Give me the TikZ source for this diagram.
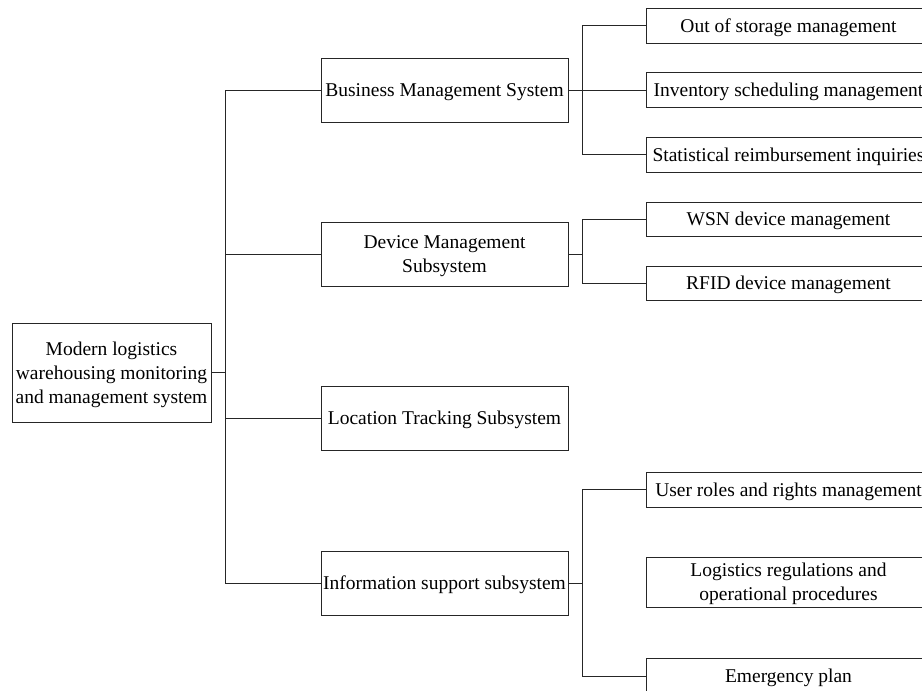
\documentclass[tikz,border=0pt]{standalone}
\usepackage{fontspec}
\setmainfont{Liberation Serif}
\begin{document}
\begin{tikzpicture}[x=1pt,y=-1pt,
  box/.style={draw=black!85,line width=1pt,inner sep=0pt,align=center,text depth=0pt,
    font=\fontsize{19.5}{24}\selectfont},
  lone/.style={box,minimum width=199pt,minimum height=99pt},
  ltwo/.style={box,minimum width=247pt,minimum height=64pt},
  lthree/.style={box,minimum width=285pt,minimum height=35pt},
  conn/.style={draw=black!85,line width=1pt}]
\useasboundingbox (0,0) rectangle (922,691);
\node[lone] (root) at (111.5,372.5) {Modern logistics\\warehousing monitoring\\and management system};
\node[ltwo] (biz) at (444.5,90) {Business Management System};
\node[ltwo] (dev) at (444.5,254) {Device Management\\Subsystem};
\node[ltwo] (loc) at (444.5,418) {Location Tracking Subsystem};
\node[ltwo] (info) at (444.5,583) {Information support subsystem};
\node[lthree] (out) at (788.5,25.5) {Out of storage management};
\node[lthree] (inv) at (788.5,90) {Inventory scheduling management};
\node[lthree] (stat) at (788.5,154.5) {Statistical reimbursement inquiries};
\node[lthree,minimum height=34pt] (wsn) at (788.5,219) {WSN device management};
\node[lthree,minimum height=34pt] (rfid) at (788.5,283) {RFID device management};
\node[lthree] (user) at (788.5,489.5) {User roles and rights management};
\node[lthree,minimum height=50pt] (regs) at (788.5,582) {Logistics regulations and\\operational procedures};
\node[lthree,minimum height=36pt] (emer) at (788.5,676) {Emergency plan};
\coordinate (ta) at (225.5,90);
\coordinate (tb) at (225.5,583);
\coordinate (ba) at (582,0);
\draw[conn] (biz.west) -- (ta) -- (tb) -- (info.west);
\draw[conn] (dev.west) -- (dev.west -| ta);
\draw[conn] (loc.west) -- (loc.west -| ta);
\draw[conn] (root.east) -- (root.east -| ta);
\draw[conn] (out.west) -- (out.west -| ba) -- (stat.west -| ba) -- (stat.west);
\draw[conn] (biz.east) -- (inv.west);
\draw[conn] (wsn.west) -- (wsn.west -| ba) -- (rfid.west -| ba) -- (rfid.west);
\draw[conn] (dev.east) -- (dev.east -| ba);
\draw[conn] (user.west) -- (user.west -| ba) -- (emer.west -| ba) -- (emer.west);
\draw[conn] (info.east) -- (info.east -| ba);
\end{tikzpicture}
\end{document}
